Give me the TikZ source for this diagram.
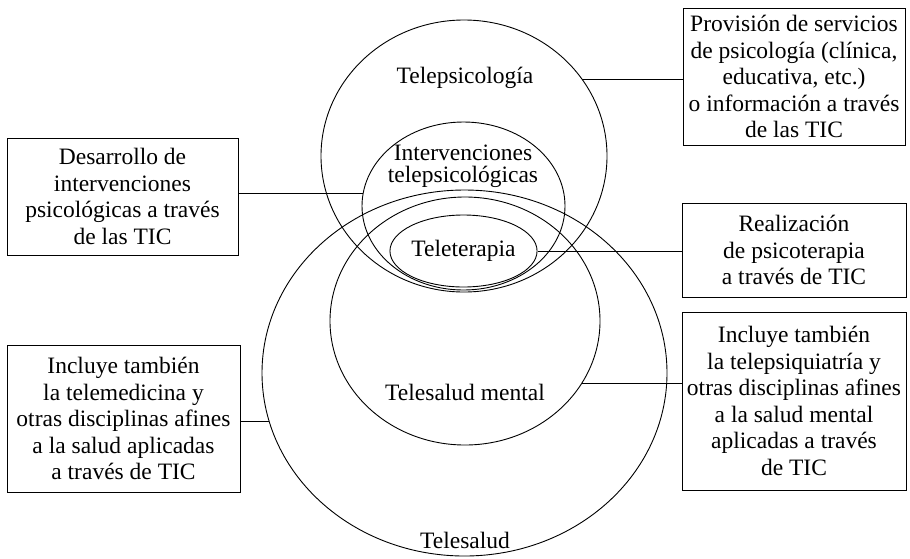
\documentclass[tikz,border=0pt]{standalone}
\usepackage{fontspec}
\setmainfont{Liberation Serif}
\usetikzlibrary{shapes.geometric,calc}
\tikzset{>=latex}
\tikzstyle{circ}=[draw,ellipse,inner sep=0pt,line width=0.9pt]
\tikzstyle{infobox}=[draw,rectangle,align=center,inner sep=1pt,line width=0.9pt]
\tikzstyle{link}=[line width=0.9pt]

\begin{document}
\begin{tikzpicture}[x=1pt, y=-1pt, font=\fontsize{23.5}{26.5}\selectfont]
    \useasboundingbox (0,0) rectangle (910,558);

    % ellipses
    \node[circ, minimum width=405pt, minimum height=366pt] (tsalud) at (464.5,373) {};
    \node[circ, minimum width=270pt, minimum height=248pt] (tsmental) at (465,321) {};
    \node[circ, minimum width=286pt, minimum height=272pt] (tpsi) at (464,156) {};
    \node[circ, minimum width=203pt, minimum height=168pt] (interv) at (463.5,206) {};
    \node[circ, minimum width=123pt, minimum height=72pt] (tter) at (463.5,251) {Teleterapia};

    % labels
    \node[] (lpsi) at (465,78) {Telepsicología};
    \node[align=center, font=\fontsize{23.5}{22.5}\selectfont] (linterv) at (463,166) {Intervenciones\\telepsicológicas};
    \node[] (lmental) at (465,392) {Telesalud mental};
    \node[] (lsalud) at (465,540) {Telesalud};

    % boxes
    \node[infobox, minimum width=231pt, minimum height=117pt] (desarrollo) at (122.5,196.5) {Desarrollo de\\intervenciones\\psicológicas a través\\de las TIC};
    \node[infobox, minimum width=233pt, minimum height=147pt] (telemed) at (123.5,418.5) {Incluye también\\la telemedicina y\\otras disciplinas afines\\a la salud aplicadas\\a través de TIC};
    \node[infobox, minimum width=222pt, minimum height=137pt] (provision) at (794,76.5) {Provisión de servicios\\de psicología (clínica,\\educativa, etc.)\\o información a través\\de las TIC};
    \node[infobox, minimum width=224pt, minimum height=94pt] (realiz) at (794,250) {Realización\\de psicoterapia\\a través de TIC};
    \node[infobox, minimum width=224pt, minimum height=178pt] (psiq) at (794,401) {Incluye también\\la telepsiquiatría y\\otras disciplinas afines\\a la salud mental\\aplicadas a través\\de TIC};

    % connectors
    \draw[link] (tpsi.33) -- (tpsi.33 -| provision.west);
    \draw[link] (interv.173) -- (interv.173 -| desarrollo.east);
    \draw[link] (tter.east) -- (tter.east -| realiz.west);
    \draw[link] (tsmental.-28) -- (tsmental.-28 -| psiq.west);
    \draw[link] (tsalud.194) -- (tsalud.194 -| telemed.east);
\end{tikzpicture}
\end{document}
